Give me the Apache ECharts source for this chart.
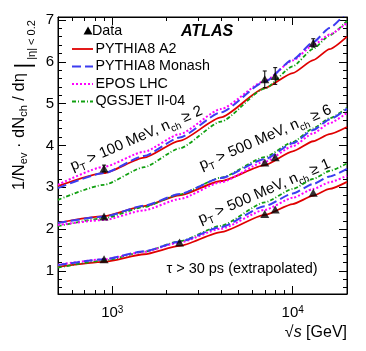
<!DOCTYPE html>
<html><head><meta charset="utf-8">
<script src="https://cdn.jsdelivr.net/npm/echarts@6/dist/echarts.min.js"></script>
<style>html,body{margin:0;padding:0;background:#fff}#c{width:366px;height:351px}</style>
</head><body><div id="c"></div>
<script>
// ---- data ----
const energies = [500, 900, 1500, 2360, 4000, 7000, 10000, 13000, 16000, 20000];

const topA2     = [3.03, 3.34, 3.71, 4.11, 4.67, 5.37, 5.73, 6.04, 6.30, 6.60];
const topMonash = [2.98, 3.34, 3.75, 4.19, 4.79, 5.52, 6.05, 6.47, 6.81, 7.20];
const topEPOS   = [3.06, 3.49, 3.85, 4.27, 4.87, 5.54, 6.03, 6.40, 6.65, 6.93];
const topQGS    = [2.70, 3.06, 3.48, 3.93, 4.57, 5.36, 5.89, 6.31, 6.63, 6.98];

const midA2     = [2.15, 2.31, 2.55, 2.81, 3.15, 3.53, 3.86, 4.10, 4.27, 4.44];
const midMonash = [2.15, 2.30, 2.56, 2.84, 3.22, 3.67, 4.05, 4.37, 4.62, 4.88];
const midEPOS   = [2.10, 2.22, 2.45, 2.72, 3.12, 3.61, 3.98, 4.29, 4.53, 4.78];
const midQGS    = [2.07, 2.26, 2.53, 2.83, 3.23, 3.72, 4.08, 4.41, 4.65, 4.90];

const lowA2     = [1.10, 1.22, 1.40, 1.60, 1.93, 2.34, 2.60, 2.80, 2.96, 3.13];
const lowMonash = [1.14, 1.28, 1.47, 1.70, 2.05, 2.55, 2.85, 3.08, 3.26, 3.44];
const lowEPOS   = [1.15, 1.28, 1.46, 1.68, 2.01, 2.46, 2.75, 2.96, 3.12, 3.28];
const lowQGS    = [1.08, 1.25, 1.46, 1.71, 2.08, 2.64, 2.96, 3.20, 3.39, 3.57];

const dataTopE = [900, 7000, 8000, 13000];
const dataTopV = [3.45, 5.58, 5.66, 6.45];
const dataTopErr = [0.08, 0.20, 0.20, 0.10];
const dataMidE = [900, 7000, 8000];
const dataMidV = [2.30, 3.59, 3.72];
const dataLowE = [900, 2360, 7000, 8000, 13000];
const dataLowV = [1.28, 1.68, 2.36, 2.47, 2.87];

const xMajorTicks = [1000, 10000];
const xMinorTicks = [600, 700, 800, 900, 2000, 3000, 4000, 5000, 6000, 7000, 8000, 9000];
const yMajorTicks = [1, 2, 3, 4, 5, 6, 7];
const yMinorTicks = [0.6, 0.8, 1.2, 1.4, 1.6, 1.8, 2.2, 2.4, 2.6, 2.8, 3.2, 3.4, 3.6, 3.8,
                     4.2, 4.4, 4.6, 4.8, 5.2, 5.4, 5.6, 5.8, 6.2, 6.4, 6.6, 6.8];

const legendNames = ['Data', 'PYTHIA8 A2', 'PYTHIA8 Monash', 'EPOS LHC', 'QGSJET II-04'];

// ---- styles ----
const FF = '"Liberation Sans", Arial, Helvetica, sans-serif';
const C_RED = '#e00000', C_BLUE = '#3c3cf0', C_MAG = '#ff00ff', C_GRN = '#10a010';
const styles = {
  A2:     {color: C_RED,  type: 'solid', width: 1.8},
  Monash: {color: C_BLUE, type: [9, 4], width: 2},
  EPOS:   {color: C_MAG,  type: [2, 2], width: 2},
  QGS:    {color: C_GRN,  type: [4, 2, 1, 2], width: 1.8}
};

const L = Math.log10;
const xy = (E, V) => E.map((e, i) => [L(e), V[i]]);

const chart = echarts.init(document.getElementById('c'), null, {renderer: 'canvas'});

function xAxisDef(pos, ticks, len, showLine, showLabel) {
  return {
    type: 'value', gridIndex: 0, position: pos,
    min: L(500), max: L(20000),
    axisLine: {show: showLine, onZero: false, lineStyle: {color: '#000', width: 1}},
    axisTick: {show: true, inside: true, length: len, customValues: ticks.map(L), lineStyle: {color: '#000', width: 1}},
    axisLabel: showLabel ? {
      show: true, customValues: xMajorTicks.map(L), margin: 11,
      formatter: v => '{b|10}{p|' + Math.round(v) + '}',
      rich: {
        b: {fontSize: 15, fontFamily: FF, color: '#000', lineHeight: 26, verticalAlign: 'top'},
        p: {fontSize: 10, fontFamily: FF, color: '#000', lineHeight: 14, verticalAlign: 'top'}
      }
    } : {show: false},
    splitLine: {show: false}
  };
}
function yAxisDef(pos, ticks, len, showLine, showLabel) {
  return {
    type: 'value', gridIndex: 0, position: pos,
    min: 0.45, max: 7.07,
    axisLine: {show: showLine, onZero: false, lineStyle: {color: '#000', width: 1}},
    axisTick: {show: true, inside: true, length: len, customValues: ticks, lineStyle: {color: '#000', width: 1}},
    axisLabel: showLabel ? {show: true, customValues: yMajorTicks, margin: 4, fontSize: 15, fontFamily: FF, color: '#000'} : {show: false},
    splitLine: {show: false}
  };
}

function curve(name, vals, st) {
  return {
    type: 'line', name: name, xAxisIndex: 0, yAxisIndex: 0,
    data: xy(energies, vals), showSymbol: false, symbol: 'none',
    smooth: 0.2, smoothMonotone: 'x', clip: true,
    lineStyle: {color: st.color, type: st.type, width: st.width},
    itemStyle: {color: st.color}, z: 3
  };
}

const series = [];
[[topA2, topMonash, topEPOS, topQGS], [midA2, midMonash, midEPOS, midQGS], [lowA2, lowMonash, lowEPOS, lowQGS]]
  .forEach(g => {
    series.push(curve('PYTHIA8 A2', g[0], styles.A2));
    series.push(curve('QGSJET II-04', g[3], styles.QGS));
    series.push(curve('EPOS LHC', g[2], styles.EPOS));
    series.push(curve('PYTHIA8 Monash', g[1], styles.Monash));
  });

series.push({
  type: 'custom', name: 'Data errors', xAxisIndex: 0, yAxisIndex: 0, z: 6,
  data: dataTopE.map((e, i) => [L(e), dataTopV[i] - dataTopErr[i], dataTopV[i] + dataTopErr[i]]),
  renderItem: (params, api) => {
    const lo = api.coord([api.value(0), api.value(1)]);
    const hi = api.coord([api.value(0), api.value(2)]);
    const s = {stroke: '#000', lineWidth: 1};
    return {type: 'group', children: [
      {type: 'line', shape: {x1: lo[0], y1: lo[1], x2: hi[0], y2: hi[1]}, style: s},
      {type: 'line', shape: {x1: hi[0] - 2, y1: hi[1], x2: hi[0] + 2, y2: hi[1]}, style: s},
      {type: 'line', shape: {x1: lo[0] - 2, y1: lo[1], x2: lo[0] + 2, y2: lo[1]}, style: s}
    ]};
  }
});
[[dataTopE, dataTopV], [dataMidE, dataMidV], [dataLowE, dataLowV]].forEach(d => {
  series.push({
    type: 'scatter', name: 'Data', xAxisIndex: 0, yAxisIndex: 0, z: 7,
    data: xy(d[0], d[1]), symbol: 'triangle', symbolSize: [9, 8],
    itemStyle: {color: '#000'}
  });
});

// legend (graphic)
const legY = [31, 49, 66.5, 84, 101.5];
const legStyles = [null, styles.A2, styles.Monash, styles.EPOS, styles.QGS];
const graphics = [];
legendNames.forEach((n, i) => {
  if (i === 0) {
    graphics.push({type: 'polygon', shape: {points: [[88, legY[0] - 4.5], [92.5, legY[0] + 3.5], [83.5, legY[0] + 3.5]]}, style: {fill: '#000'}});
    graphics.push({type: 'text', x: 92, y: legY[0], style: {text: n, font: '14.3px ' + FF, fill: '#000', verticalAlign: 'middle', align: 'left'}});
  } else {
    const st = legStyles[i];
    graphics.push({type: 'line', shape: {x1: 72, y1: legY[i], x2: 93, y2: legY[i]},
      style: {stroke: st.color, lineWidth: st.width, lineDash: st.type === 'solid' ? null : st.type}});
    graphics.push({type: 'text', x: 95.5, y: legY[i], style: {text: n, font: '14.3px ' + FF, fill: '#000', verticalAlign: 'middle', align: 'left'}});
  }
});
// ATLAS
graphics.push({type: 'text', x: 181, y: 31.5, style: {text: 'ATLAS', font: 'italic bold 16px ' + FF, fill: '#000', verticalAlign: 'middle', align: 'left'}});
// annotations
const annRich = {
  m: {fontSize: 15, fontFamily: FF, fill: '#000', lineHeight: 18, verticalAlign: 'top'},
  s: {fontSize: 10, fontFamily: FF, fill: '#000', lineHeight: 18, verticalAlign: 'bottom'}
};
function ann(txt, x, y, deg) {
  graphics.push({type: 'text', x: x, y: y, rotation: deg * Math.PI / 180,
    style: {text: txt, rich: annRich, align: 'center', verticalAlign: 'middle'}});
}
ann('{m|p}{s|T}{m| > 100 MeV, n}{s|ch}{m| ≥ 2}', 137, 140, 23.5);
ann('{m|p}{s|T}{m| > 500 MeV, n}{s|ch}{m| ≥ 6}', 266, 139, 23.5);
ann('{m|p}{s|T}{m| > 500 MeV, n}{s|ch}{m| ≥ 1}', 265, 193, 23.5);
graphics.push({type: 'text', x: 242, y: 269, style: {text: 'τ > 30 ps (extrapolated)', font: '14.5px ' + FF, fill: '#000', align: 'center', verticalAlign: 'middle'}});
// x title
graphics.push({type: 'text', x: 347, y: 333, style: {
  text: '{n|√}{i|s}{n| [GeV]}', align: 'right', verticalAlign: 'middle',
  rich: {n: {fontSize: 16, fontFamily: FF, fill: '#000'}, i: {fontSize: 16, fontFamily: FF, fontStyle: 'italic', fill: '#000'}}
}});
// y title
graphics.push({type: 'text', x: 24, y: 105, rotation: Math.PI / 2, style: {
  text: '{m|1/N}{s|ev}{m| · dN}{s|ch}{m| / dη }{bar||}{s2| |η| < 0.2}',
  align: 'center', verticalAlign: 'middle',
  rich: {
    m: {fontSize: 16.5, fontFamily: FF, fill: '#000', lineHeight: 26, verticalAlign: 'top'},
    s: {fontSize: 11, fontFamily: FF, fill: '#000', lineHeight: 26, verticalAlign: 'middle'},
    bar: {fontSize: 22, fontFamily: FF, fill: '#000', lineHeight: 26, verticalAlign: 'middle'},
    s2: {fontSize: 11, fontFamily: FF, fill: '#000', lineHeight: 26, verticalAlign: 'bottom'}
  }
}});

chart.setOption({
  animation: false,
  backgroundColor: '#fff',
  grid: {left: 58, right: 19, top: 17, bottom: 57, show: true, borderColor: '#000', borderWidth: 1, containLabel: false},
  xAxis: [
    xAxisDef('bottom', xMajorTicks, 8, true, true),
    xAxisDef('bottom', xMinorTicks, 4, false, false),
    xAxisDef('top', xMajorTicks, 8, true, false),
    xAxisDef('top', xMinorTicks, 4, false, false)
  ],
  yAxis: [
    yAxisDef('left', yMajorTicks, 8, true, true),
    yAxisDef('left', yMinorTicks, 4, false, false),
    yAxisDef('right', yMajorTicks, 8, true, false),
    yAxisDef('right', yMinorTicks, 4, false, false)
  ],
  series: series,
  graphic: graphics
});
</script></body></html>
